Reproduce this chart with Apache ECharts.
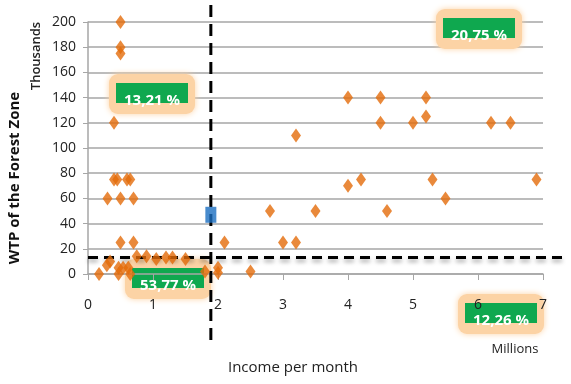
<!DOCTYPE html>
<html>
<head>
<meta charset="utf-8">
<script src="https://cdn.jsdelivr.net/npm/echarts@6/dist/echarts.min.js"></script>
<style>
  html, body { margin: 0; padding: 0; background: #fff; }
  #main { width: 571px; height: 384px; }
</style>
</head>
<body>
<div id="main"></div>
<script>
// income (millions) and WTP (thousands) of each respondent
var income = [0.5, 0.5, 0.5, 0.4, 0.4, 0.45, 0.6, 0.65, 0.3, 0.5, 0.7, 0.5, 0.7,
  0.75, 0.9, 1.05, 1.2, 1.3, 1.5, 0.17, 0.29, 0.34, 0.47, 0.47, 0.54, 0.62, 0.65, 1.8,
  2.0, 2.0, 2.1, 2.5, 2.8, 3.0, 3.2, 3.2, 3.5,
  4.0, 4.0, 4.2, 4.5, 4.5, 4.6, 5.0, 5.2, 5.2, 5.3, 5.5, 6.2, 6.5, 6.9];
var wtp = [200, 180, 175, 120, 75, 75, 75, 75, 60, 60, 60, 25, 25,
  14, 14, 12, 13, 13, 12, 0, 7, 10, 5, 0, 5, 5, 0, 2,
  5, 1, 25, 2, 50, 25, 25, 110, 50,
  140, 70, 75, 140, 120, 50, 120, 140, 125, 75, 60, 120, 120, 75];

var meanIncome = 1.89;
var meanWtp = 47;
var wtpCut = 13;

var xTicks = [0, 7, 1];   // min, max, step
var yTicks = [0, 200, 20];

var shares = ['13,21 %', '20,75 %', '53,77 %', '12,26 %'];

var points = income.map(function (v, i) { return [v, wtp[i]]; });

var gridColor = '#a6a6a6';

var option = {
  animation: false,
  grid: { left: 88, right: 28, top: 22, bottom: 110 },
  xAxis: {
    type: 'value',
    min: xTicks[0], max: xTicks[1], interval: xTicks[2],
    axisLine: { show: true, lineStyle: { color: gridColor, width: 1.5 } },
    axisTick: { show: true, length: 6, lineStyle: { color: gridColor } },
    splitLine: { show: false },
    axisLabel: { margin: 24, color: '#222', fontSize: 14, fontFamily: 'Liberation Sans Narrow, Open Sans' }
  },
  yAxis: {
    type: 'value',
    min: yTicks[0], max: yTicks[1], interval: yTicks[2],
    axisLine: { show: true, lineStyle: { color: gridColor, width: 1.5 } },
    axisTick: { show: true, length: 5, lineStyle: { color: gridColor } },
    splitLine: { show: true, lineStyle: { color: gridColor, width: 1.5 } },
    axisLabel: { margin: 12, color: '#222', fontSize: 14, fontFamily: 'Liberation Sans Narrow, Open Sans' }
  },
  series: [
    {
      type: 'scatter',
      symbol: 'diamond',
      symbolSize: [10, 14],
      itemStyle: { color: '#e46c0a' },
      data: points,
      z: 3
    },
    {
      type: 'scatter',
      symbol: 'rect',
      symbolSize: [11, 16],
      itemStyle: { color: '#1a6ec0' },
      data: [[meanIncome, meanWtp]],
      z: 4
    }
  ]
};

var chart = echarts.init(document.getElementById('main'));
chart.setOption(option);

var px = chart.convertToPixel({ xAxisIndex: 0 }, meanIncome);
var py = chart.convertToPixel({ yAxisIndex: 0 }, wtpCut);

function shareBox(txt, x, y) {
  // x,y = top-left of the glow box
  return {
    type: 'group', x: x, y: y, z: 10,
    children: [
      { type: 'rect', shape: { x: 0, y: 0, width: 86, height: 40, r: 9 },
        style: { fill: '#fcd3a5', shadowBlur: 6, shadowColor: '#fcd3a5' } },
      { type: 'rect', shape: { x: 7, y: 9, width: 72, height: 20 },
        style: { fill: '#0fa84f' } },
      { type: 'text', x: 43, y: 27,
        style: { text: txt, fill: '#fff', font: 'bold 15px Liberation Sans Narrow, Open Sans',
          align: 'center', verticalAlign: 'middle' } }
    ]
  };
}

chart.setOption({
  graphic: [
    { type: 'line', z: 1, shape: { x1: px, y1: 5, x2: px, y2: 342 },
      style: { stroke: '#000', lineWidth: 3, lineDash: [12, 7] } },
    { type: 'line', z: 1, shape: { x1: 88, y1: py, x2: 562, y2: py },
      style: { stroke: '#000', lineWidth: 3, lineDash: [10, 6],
        shadowBlur: 4, shadowColor: 'rgba(0,0,0,0.35)', shadowOffsetY: 3 } },
    shareBox(shares[0], 109, 74),
    shareBox(shares[1], 436, 9),
    shareBox(shares[2], 125, 259),
    shareBox(shares[3], 458, 294),
    { type: 'text', x: 293, y: 368, z: 10,
      style: { text: 'Income per month', fill: '#222', font: '15px Open Sans',
        align: 'center', verticalAlign: 'middle' } },
    { type: 'text', x: 515, y: 349, z: 10,
      style: { text: 'Millions', fill: '#222', font: '13px Open Sans',
        align: 'center', verticalAlign: 'middle' } },
    { type: 'text', x: 15, y: 178, rotation: Math.PI / 2, z: 10,
      style: { text: 'WTP of the Forest Zone', fill: '#111', font: 'bold 15px Open Sans',
        align: 'center', verticalAlign: 'middle' } },
    { type: 'text', x: 36, y: 56, rotation: Math.PI / 2, z: 10,
      style: { text: 'Thousands', fill: '#222', font: '600 13px Open Sans',
        align: 'center', verticalAlign: 'middle' } }
  ]
});
</script>
</body>
</html>
